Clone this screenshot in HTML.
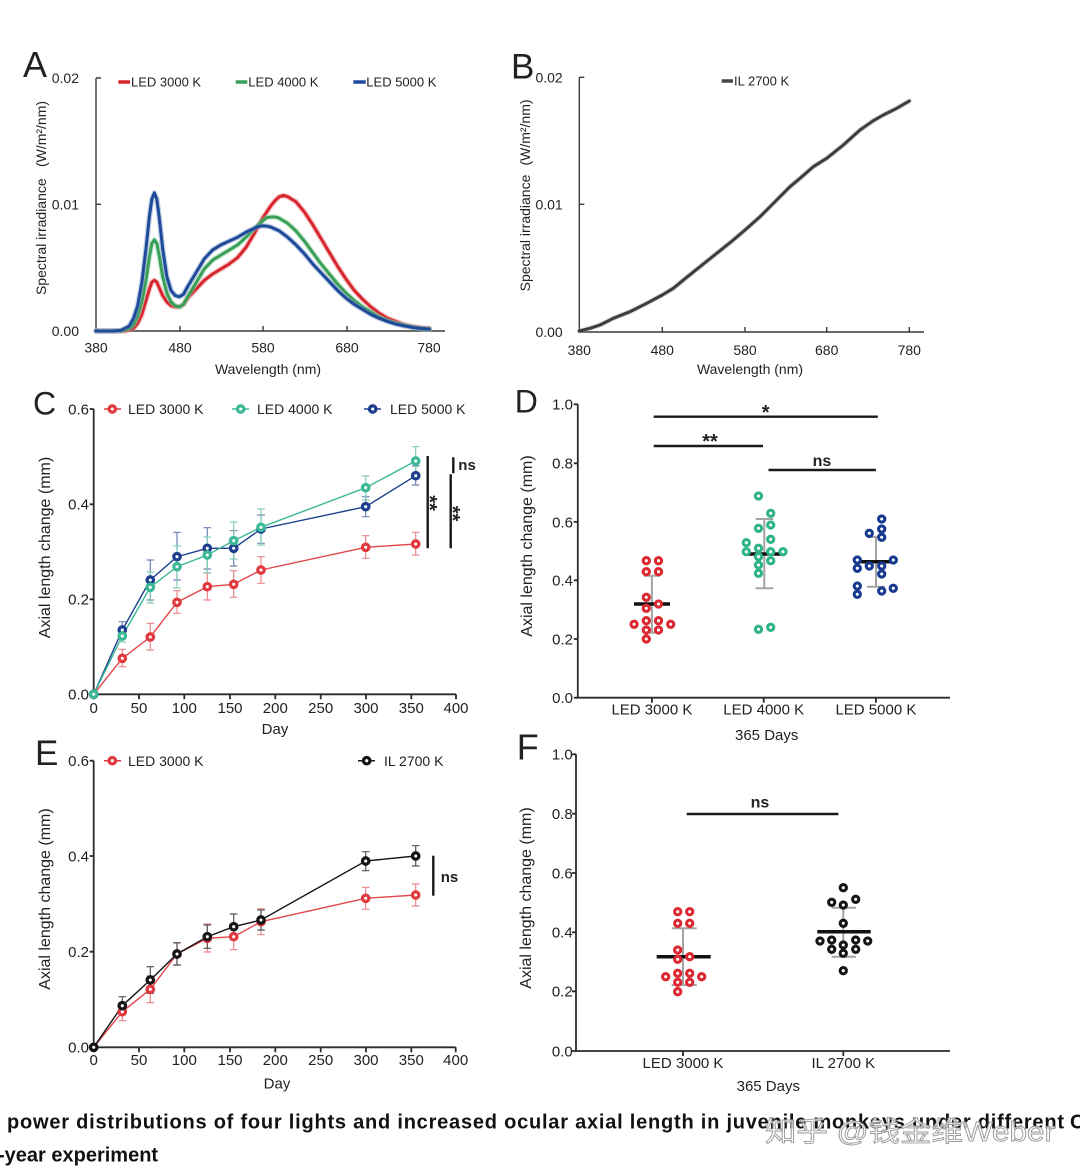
<!DOCTYPE html>
<html><head><meta charset="utf-8">
<style>
html,body{margin:0;padding:0;background:#fff;}
svg{display:block;}
text{font-family:"Liberation Sans","Noto Sans CJK SC",sans-serif;fill:#222;}
.ax{stroke:#2a2a2a;stroke-width:1.8;fill:none;}
.axa{stroke:#3a3a3a;stroke-width:1.4;fill:none;}
.sig{stroke:#1a1a1a;stroke-width:2.4;fill:none;}
.t15{font-size:15px;}
.t14{font-size:14px;}
.t13{font-size:13px;}
.b{font-weight:bold;}
</style></head>
<body>
<svg width="1080" height="1175" viewBox="0 0 1080 1175" xmlns="http://www.w3.org/2000/svg">
<rect width="1080" height="1175" fill="#fff"/>

<!-- ================= PANEL A ================= -->
<text x="23" y="77" font-size="36">A</text>
<path class="axa" d="M96 78 V331 H445"/>
<path class="axa" d="M96 78 h5 M96 204.3 h5 M180 331 v-5 M263 331 v-5 M347 331 v-5 M429 331 v-5"/>
<g class="t14" text-anchor="end">
<text x="79" y="83">0.02</text>
<text x="79" y="209.3">0.01</text>
<text x="79" y="336">0.00</text>
</g>
<g class="t14" text-anchor="middle">
<text x="96" y="352.5">380</text>
<text x="180" y="352.5">480</text>
<text x="263" y="352.5">580</text>
<text x="347" y="352.5">680</text>
<text x="429" y="352.5">780</text>
<text x="268" y="374">Wavelength (nm)</text>
</g>
<text class="t14" text-anchor="middle" transform="translate(46,236.7) rotate(-90)">Spectral irradiance</text>
<text class="t14" text-anchor="middle" transform="translate(46,134) rotate(-90)">(W/m²/nm)</text>
<path d="M118.3 82 H130" stroke="#d8262e" stroke-width="3.5"/>
<text class="t13" x="131" y="86.5">LED 3000 K</text>
<path d="M235.7 82 H247.3" stroke="#3a9f57" stroke-width="3.5"/>
<text class="t13" x="248.3" y="86.5">LED 4000 K</text>
<path d="M353.3 82 H365.7" stroke="#1e4a9a" stroke-width="3.5"/>
<text class="t13" x="366.3" y="86.5">LED 5000 K</text>
<g transform="translate(96,331) scale(0.8333,-12.67)" fill="none" stroke-linejoin="round" stroke-linecap="round">
<g id="redA">
<polyline vector-effect="non-scaling-stroke" stroke="#e6868a" stroke-opacity="0.45" stroke-width="5.5" points="0,0 35,0 45,0.2 50,0.6 55,1.3 60,2.4 64,3.3 67,3.85 70,4.0 73,3.85 76,3.4 80,2.8 85,2.3 90,2.0 95,1.9 100,1.9 105,2.1 110,2.6 120,3.3 130,4.0 140,4.5 150,4.9 160,5.3 170,5.8 180,6.6 190,7.7 200,8.9 210,9.9 215,10.3 220,10.6 225,10.7 230,10.6 235,10.4 240,10.2 250,9.4 260,8.4 270,7.3 280,6.2 290,5.1 300,4.1 310,3.2 320,2.5 330,1.9 340,1.4 350,1.0 360,0.75 370,0.5 380,0.35 390,0.25 400,0.2"/>
<polyline vector-effect="non-scaling-stroke" stroke="#d8262e" stroke-width="3" points="0,0 35,0 45,0.2 50,0.6 55,1.3 60,2.4 64,3.3 67,3.85 70,4.0 73,3.85 76,3.4 80,2.8 85,2.3 90,2.0 95,1.9 100,1.9 105,2.1 110,2.6 120,3.3 130,4.0 140,4.5 150,4.9 160,5.3 170,5.8 180,6.6 190,7.7 200,8.9 210,9.9 215,10.3 220,10.6 225,10.7 230,10.6 235,10.4 240,10.2 250,9.4 260,8.4 270,7.3 280,6.2 290,5.1 300,4.1 310,3.2 320,2.5 330,1.9 340,1.4 350,1.0 360,0.75 370,0.5 380,0.35 390,0.25 400,0.2"/>
</g>
<polyline vector-effect="non-scaling-stroke" stroke="#8fcf9f" stroke-opacity="0.45" stroke-width="5.5" points="0,0 30,0 40,0.2 45,0.5 50,1.2 55,2.3 60,4.0 64,5.8 67,6.9 70,7.2 73,6.9 76,5.9 80,4.3 85,3.0 90,2.3 95,2.0 100,1.9 105,2.1 110,2.7 120,3.8 130,4.9 140,5.6 150,6.0 160,6.4 170,6.8 180,7.4 190,8.1 200,8.7 205,8.95 210,9.0 215,9.0 220,8.9 230,8.5 240,7.9 250,7.1 260,6.2 270,5.3 280,4.5 290,3.7 300,3.0 310,2.4 320,1.9 330,1.5 340,1.1 350,0.8 360,0.6 370,0.45 380,0.3 390,0.2 400,0.15"/>
<polyline vector-effect="non-scaling-stroke" stroke="#3a9f57" stroke-width="3" points="0,0 30,0 40,0.2 45,0.5 50,1.2 55,2.3 60,4.0 64,5.8 67,6.9 70,7.2 73,6.9 76,5.9 80,4.3 85,3.0 90,2.3 95,2.0 100,1.9 105,2.1 110,2.7 120,3.8 130,4.9 140,5.6 150,6.0 160,6.4 170,6.8 180,7.4 190,8.1 200,8.7 205,8.95 210,9.0 215,9.0 220,8.9 230,8.5 240,7.9 250,7.1 260,6.2 270,5.3 280,4.5 290,3.7 300,3.0 310,2.4 320,1.9 330,1.5 340,1.1 350,0.8 360,0.6 370,0.45 380,0.3 390,0.2 400,0.15"/>
<polyline vector-effect="non-scaling-stroke" stroke="#7d97c8" stroke-opacity="0.45" stroke-width="5.5" points="0,0 20,0 30,0.05 40,0.4 45,1.0 50,2.0 55,3.8 60,6.5 64,9.0 67,10.4 70,10.9 73,10.4 76,8.9 80,6.5 85,4.3 90,3.2 95,2.8 100,2.7 105,2.9 110,3.5 120,4.6 130,5.7 140,6.4 150,6.8 160,7.1 170,7.4 180,7.8 190,8.1 195,8.25 200,8.3 205,8.28 210,8.2 220,7.9 230,7.4 240,6.8 250,6.1 260,5.3 270,4.6 280,3.9 290,3.2 300,2.6 310,2.1 320,1.7 330,1.3 340,1.0 350,0.75 360,0.55 370,0.4 380,0.28 390,0.2 400,0.15"/>
<polyline vector-effect="non-scaling-stroke" stroke="#1e4a9a" stroke-width="3" points="0,0 20,0 30,0.05 40,0.4 45,1.0 50,2.0 55,3.8 60,6.5 64,9.0 67,10.4 70,10.9 73,10.4 76,8.9 80,6.5 85,4.3 90,3.2 95,2.8 100,2.7 105,2.9 110,3.5 120,4.6 130,5.7 140,6.4 150,6.8 160,7.1 170,7.4 180,7.8 190,8.1 195,8.25 200,8.3 205,8.28 210,8.2 220,7.9 230,7.4 240,6.8 250,6.1 260,5.3 270,4.6 280,3.9 290,3.2 300,2.6 310,2.1 320,1.7 330,1.3 340,1.0 350,0.75 360,0.55 370,0.4 380,0.28 390,0.2 400,0.15"/>
</g>

<!-- ================= PANEL B ================= -->
<text x="511" y="78.3" font-size="35">B</text>
<path class="axa" d="M579.3 77.3 V332 H924"/>
<path class="axa" d="M579.3 77.3 h5 M579.3 204.3 h5 M662.3 332 v-5 M745 332 v-5 M826.7 332 v-5 M909.3 332 v-5"/>
<g class="t14" text-anchor="end">
<text x="562.7" y="82.3">0.02</text>
<text x="562.7" y="209.3">0.01</text>
<text x="562.7" y="337">0.00</text>
</g>
<g class="t14" text-anchor="middle">
<text x="579.3" y="355">380</text>
<text x="662.3" y="355">480</text>
<text x="745" y="355">580</text>
<text x="826.7" y="355">680</text>
<text x="909.3" y="355">780</text>
<text x="750" y="374">Wavelength (nm)</text>
</g>
<text class="t14" text-anchor="middle" transform="translate(530,233) rotate(-90)">Spectral irradiance</text>
<text class="t14" text-anchor="middle" transform="translate(530,132.5) rotate(-90)">(W/m²/nm)</text>
<path d="M721.7 81 H733" stroke="#444" stroke-width="3.5"/>
<text class="t13" x="734" y="85.5">IL 2700 K</text>
<polyline fill="none" stroke="#9a9a9a" stroke-opacity="0.4" stroke-width="5" stroke-linejoin="round" stroke-linecap="round" points="579.3,331 590,328.3 600,325 613.3,318.3 630,311.7 646.7,303.3 662.3,295 673.3,288.3 686.7,277.3 700,266.7 716.7,253.3 733.3,240 745,230 760,216.7 776.7,200 790,186.7 800,178.3 813.3,166.7 826.7,158.3 843.3,145 860,130 873.3,120.7 883.3,115 896.7,108.3 909.3,101"/>
<polyline fill="none" stroke="#3d3d3d" stroke-width="3" stroke-linejoin="round" stroke-linecap="round" points="579.3,331 590,328.3 600,325 613.3,318.3 630,311.7 646.7,303.3 662.3,295 673.3,288.3 686.7,277.3 700,266.7 716.7,253.3 733.3,240 745,230 760,216.7 776.7,200 790,186.7 800,178.3 813.3,166.7 826.7,158.3 843.3,145 860,130 873.3,120.7 883.3,115 896.7,108.3 909.3,101"/>

<!-- ================= PANEL C ================= -->
<text x="33" y="414.3" font-size="32">C</text>
<path class="ax" d="M93.7 409 V694.3 H456"/>
<path class="ax" d="M89.7 409 H93.7 M89.7 504.3 H93.7 M89.7 599.3 H93.7 M89.7 694.3 H93.7 M93.7 694.3 v5 M139 694.3 v5 M184.3 694.3 v5 M230 694.3 v5 M275.3 694.3 v5 M320.7 694.3 v5 M366 694.3 v5 M411.3 694.3 v5 M456 694.3 v5"/>
<g class="t15" text-anchor="end">
<text x="89" y="414.3">0.6</text>
<text x="89" y="509.6">0.4</text>
<text x="89" y="604.6">0.2</text>
<text x="89" y="699.6">0.0</text>
</g>
<g class="t15" text-anchor="middle">
<text x="93.7" y="713">0</text>
<text x="139" y="713">50</text>
<text x="184.3" y="713">100</text>
<text x="230" y="713">150</text>
<text x="275.3" y="713">200</text>
<text x="320.7" y="713">250</text>
<text x="366" y="713">300</text>
<text x="411.3" y="713">350</text>
<text x="456" y="713">400</text>
<text x="275" y="734">Day</text>
</g>
<text font-size="16" text-anchor="middle" transform="translate(50,547.5) rotate(-90)">Axial length change (mm)</text>
<!-- legend C -->
<path d="M104 409 H121" stroke="#e03a3f" stroke-width="1.5"/>
<circle cx="112.3" cy="409" r="3.2" fill="#fff" stroke="#e03a3f" stroke-width="3.3"/>
<text class="t14" x="128" y="414">LED 3000 K</text>
<path d="M232 409 H249" stroke="#3bb896" stroke-width="1.5"/>
<circle cx="240.7" cy="409" r="3.2" fill="#fff" stroke="#3bb896" stroke-width="3.3"/>
<text class="t14" x="257" y="414">LED 4000 K</text>
<path d="M364 409 H381" stroke="#1d3f8e" stroke-width="1.5"/>
<circle cx="372.7" cy="409" r="3.2" fill="#fff" stroke="#1d3f8e" stroke-width="3.3"/>
<text class="t14" x="390" y="414">LED 5000 K</text>
<!-- red series C -->
<g fill="none">
<polyline stroke="#e0474c" stroke-width="1.4" points="93.7,694.3 122.3,658.3 150.3,637 177,602.3 207.3,586.7 233.7,584.3 261,570 365.7,547.3 415.7,544"/>
<path stroke="#e8878a" stroke-width="1.2" d="M122.3 649.3 V666.7 M118.5 649.3 h7.6 M118.5 666.7 h7.6 M150.3 623.3 V650 M146.5 623.3 h7.6 M146.5 650 h7.6 M177 590.7 V613.3 M173.2 590.7 h7.6 M173.2 613.3 h7.6 M207.3 572.7 V600 M203.5 572.7 h7.6 M203.5 600 h7.6 M233.7 570.7 V597.3 M229.9 570.7 h7.6 M229.9 597.3 h7.6 M261 556.7 V583.3 M257.2 556.7 h7.6 M257.2 583.3 h7.6 M365.7 535.7 V558.3 M361.9 535.7 h7.6 M361.9 558.3 h7.6 M415.7 532.3 V555 M411.9 532.3 h7.6 M411.9 555 h7.6"/>
</g>
<!-- blue series C -->
<g fill="none">
<polyline stroke="#1d3f8e" stroke-width="1.4" points="93.7,694.3 122.3,630 150.3,580 177,556.7 207.3,548.3 233.7,548.3 261,529 365.7,506.7 415.7,475.7"/>
<path stroke="#7084b3" stroke-width="1.2" d="M122.3 621.7 V638.3 M118.5 621.7 h7.6 M118.5 638.3 h7.6 M150.3 560 V600 M146.5 560 h7.6 M146.5 600 h7.6 M177 532.3 V580 M173.2 532.3 h7.6 M173.2 580 h7.6 M207.3 527.7 V569 M203.5 527.7 h7.6 M203.5 569 h7.6 M233.7 530.7 V566 M229.9 530.7 h7.6 M229.9 566 h7.6 M261 515 V543.3 M257.2 515 h7.6 M257.2 543.3 h7.6 M365.7 496.7 V516.7 M361.9 496.7 h7.6 M361.9 516.7 h7.6 M415.7 466 V485 M411.9 466 h7.6 M411.9 485 h7.6"/>
</g>
<!-- green series C -->
<g fill="none">
<polyline stroke="#3bb896" stroke-width="1.4" points="93.7,694.3 122.3,636 150.3,587.3 177,566.7 207.3,555 233.7,540.7 261,527.3 365.7,487.7 415.7,461"/>
<path stroke="#85cdb6" stroke-width="1.2" d="M122.3 630 V642 M118.5 630 h7.6 M118.5 642 h7.6 M150.3 572 V603 M146.5 572 h7.6 M146.5 603 h7.6 M177 546 V588 M173.2 546 h7.6 M173.2 588 h7.6 M207.3 537 V573 M203.5 537 h7.6 M203.5 573 h7.6 M233.7 522 V559 M229.9 522 h7.6 M229.9 559 h7.6 M261 509 V545 M257.2 509 h7.6 M257.2 545 h7.6 M365.7 476 V500 M361.9 476 h7.6 M361.9 500 h7.6 M415.7 446.7 V475 M411.9 446.7 h7.6 M411.9 475 h7.6"/>
</g>
<g fill="#fff" stroke="#e03a3f" stroke-width="3.3">
<circle cx="93.7" cy="694.3" r="3.2"/><circle cx="122.3" cy="658.3" r="3.2"/><circle cx="150.3" cy="637" r="3.2"/><circle cx="177" cy="602.3" r="3.2"/><circle cx="207.3" cy="586.7" r="3.2"/><circle cx="233.7" cy="584.3" r="3.2"/><circle cx="261" cy="570" r="3.2"/><circle cx="365.7" cy="547.3" r="3.2"/><circle cx="415.7" cy="544" r="3.2"/>
</g>
<g fill="#fff" stroke="#1d3f8e" stroke-width="3.3">
<circle cx="93.7" cy="694.3" r="3.2"/><circle cx="122.3" cy="630" r="3.2"/><circle cx="150.3" cy="580" r="3.2"/><circle cx="177" cy="556.7" r="3.2"/><circle cx="207.3" cy="548.3" r="3.2"/><circle cx="233.7" cy="548.3" r="3.2"/><circle cx="261" cy="529" r="3.2"/><circle cx="365.7" cy="506.7" r="3.2"/><circle cx="415.7" cy="475.7" r="3.2"/>
</g>
<g fill="#fff" stroke="#3bb896" stroke-width="3.3">
<circle cx="93.7" cy="694.3" r="3.2"/><circle cx="122.3" cy="636" r="3.2"/><circle cx="150.3" cy="587.3" r="3.2"/><circle cx="177" cy="566.7" r="3.2"/><circle cx="207.3" cy="555" r="3.2"/><circle cx="233.7" cy="540.7" r="3.2"/><circle cx="261" cy="527.3" r="3.2"/><circle cx="365.7" cy="487.7" r="3.2"/><circle cx="415.7" cy="461" r="3.2"/>
</g>
<!-- significance C -->
<path class="sig" d="M427.7 456 V548.3 M450.7 474.3 V548.3 M453.3 457.3 V473.3"/>
<text class="b" font-size="20" text-anchor="middle" transform="translate(423,503) rotate(90)">**</text>
<text class="b" font-size="20" text-anchor="middle" transform="translate(446,513.5) rotate(90)">**</text>
<text class="b" font-size="15" x="458.3" y="470">ns</text>

<!-- ================= PANEL D ================= -->
<text x="514.8" y="412.3" font-size="32">D</text>
<path class="ax" d="M577.8 404.3 V697.7 H950"/>
<path class="ax" d="M573.8 404.3 h4 M573.8 463.3 h4 M573.8 522 h4 M573.8 580.3 h4 M573.8 639 h4 M573.8 697.7 h4 M651.9 697.7 v5 M763.7 697.7 v5 M875.9 697.7 v5"/>
<g class="t15" text-anchor="end">
<text x="573" y="409.6">1.0</text>
<text x="573" y="468.6">0.8</text>
<text x="573" y="527.3">0.6</text>
<text x="573" y="585.6">0.4</text>
<text x="573" y="644.3">0.2</text>
<text x="573" y="703">0.0</text>
</g>
<g class="t15" text-anchor="middle">
<text x="651.9" y="714.5">LED 3000 K</text>
<text x="763.7" y="714.5">LED 4000 K</text>
<text x="875.9" y="714.5">LED 5000 K</text>
<text x="766.7" y="740">365 Days</text>
</g>
<text font-size="16" text-anchor="middle" transform="translate(532,546) rotate(-90)">Axial length change (mm)</text>
<path class="sig" d="M653.7 416.7 H877.8 M653.7 446 H763 M768.5 470 H875.9"/>
<text class="b" font-size="20" text-anchor="middle" x="765.6" y="419">*</text>
<text class="b" font-size="20" text-anchor="middle" x="710" y="448">**</text>
<text class="b" font-size="16" text-anchor="middle" x="822" y="466">ns</text>
<!-- SD bars D -->
<path stroke="#a3a3a3" stroke-width="2" fill="none" d="M651.9 575.7 V632.6 M644 575.7 H660 M644 632.6 H660 M764.3 519 V588.3 M755.7 519 H773.3 M755.7 588.3 H773.3 M876 537 V586.7 M867 537 H885 M867 586.7 H885"/>
<path stroke="#111" stroke-width="3.5" d="M634 604 H670 M746 554 H782 M858 561.7 H893"/>
<g fill="#fff" stroke="#dc2830" stroke-width="3.1">
<circle cx="646.3" cy="560.7" r="3.1"/><circle cx="658.5" cy="560.7" r="3.1"/><circle cx="646.3" cy="571.7" r="3.1"/><circle cx="658.5" cy="571.7" r="3.1"/><circle cx="646.3" cy="597.3" r="3.1"/><circle cx="646.3" cy="608.3" r="3.1"/><circle cx="658.5" cy="604" r="3.1"/><circle cx="634.1" cy="624.3" r="3.1"/><circle cx="670.7" cy="624.3" r="3.1"/><circle cx="646.3" cy="620.7" r="3.1"/><circle cx="658.5" cy="620.7" r="3.1"/><circle cx="646.3" cy="630" r="3.1"/><circle cx="658.5" cy="630" r="3.1"/><circle cx="646.3" cy="639" r="3.1"/>
</g>
<g fill="#fff" stroke="#2fb48a" stroke-width="3.1">
<circle cx="758.5" cy="496" r="3.1"/><circle cx="770.7" cy="513.3" r="3.1"/><circle cx="758.5" cy="528.3" r="3.1"/><circle cx="770.7" cy="525" r="3.1"/><circle cx="770.7" cy="539.3" r="3.1"/><circle cx="746.3" cy="542.7" r="3.1"/><circle cx="758.5" cy="548.3" r="3.1"/><circle cx="770.7" cy="551.7" r="3.1"/><circle cx="746.3" cy="551.7" r="3.1"/><circle cx="783" cy="551.7" r="3.1"/><circle cx="758.5" cy="556.7" r="3.1"/><circle cx="770.7" cy="560.7" r="3.1"/><circle cx="758.5" cy="565" r="3.1"/><circle cx="758.5" cy="573.3" r="3.1"/><circle cx="758.5" cy="629.3" r="3.1"/><circle cx="770.7" cy="627.3" r="3.1"/>
</g>
<g fill="#fff" stroke="#17398e" stroke-width="3.1">
<circle cx="881.7" cy="519" r="3.1"/><circle cx="881.7" cy="529" r="3.1"/><circle cx="869.3" cy="533.3" r="3.1"/><circle cx="881.7" cy="537.3" r="3.1"/><circle cx="857.3" cy="560" r="3.1"/><circle cx="893.3" cy="560" r="3.1"/><circle cx="857.3" cy="568.3" r="3.1"/><circle cx="869.3" cy="566" r="3.1"/><circle cx="881.7" cy="566" r="3.1"/><circle cx="881.7" cy="574" r="3.1"/><circle cx="857.3" cy="586" r="3.1"/><circle cx="857.3" cy="594.3" r="3.1"/><circle cx="881.7" cy="591" r="3.1"/><circle cx="893.3" cy="588.3" r="3.1"/>
</g>

<!-- ================= PANEL E ================= -->
<text x="35" y="765" font-size="35">E</text>
<path class="ax" d="M93.7 760.7 V1047.3 H455.7"/>
<path class="ax" d="M89.7 760.7 h4 M89.7 856 h4 M89.7 951.7 h4 M89.7 1047.3 h4 M93.7 1047.3 v5 M139 1047.3 v5 M184.3 1047.3 v5 M230 1047.3 v5 M275.3 1047.3 v5 M320.7 1047.3 v5 M366 1047.3 v5 M411.3 1047.3 v5 M455.7 1047.3 v5"/>
<g class="t15" text-anchor="end">
<text x="89" y="766">0.6</text>
<text x="89" y="861.3">0.4</text>
<text x="89" y="957">0.2</text>
<text x="89" y="1052.6">0.0</text>
</g>
<g class="t15" text-anchor="middle">
<text x="93.7" y="1065">0</text>
<text x="139" y="1065">50</text>
<text x="184.3" y="1065">100</text>
<text x="230" y="1065">150</text>
<text x="275.3" y="1065">200</text>
<text x="320.7" y="1065">250</text>
<text x="366" y="1065">300</text>
<text x="411.3" y="1065">350</text>
<text x="455.7" y="1065">400</text>
<text x="277" y="1088.5">Day</text>
</g>
<text font-size="16" text-anchor="middle" transform="translate(50,899) rotate(-90)">Axial length change (mm)</text>
<path d="M104 760.7 H121" stroke="#e03a3f" stroke-width="1.5"/>
<circle cx="112.3" cy="760.7" r="3.2" fill="#fff" stroke="#e03a3f" stroke-width="3.3"/>
<text class="t14" x="128" y="766">LED 3000 K</text>
<path d="M358 760.7 H375" stroke="#151515" stroke-width="1.5"/>
<circle cx="366.7" cy="760.7" r="3.2" fill="#fff" stroke="#151515" stroke-width="3.3"/>
<text class="t14" x="384" y="766">IL 2700 K</text>
<g fill="none">
<polyline stroke="#e0474c" stroke-width="1.4" points="93.7,1047.3 122.3,1011.7 150.3,989.3 177,954 207.3,938.3 233.7,936.7 261,921.7 365.7,898.3 415.7,895"/>
<path stroke="#e8878a" stroke-width="1.2" d="M122.3 1002.7 V1020.7 M118.5 1002.7 h7.6 M118.5 1020.7 h7.6 M150.3 976 V1002.6 M146.5 976 h7.6 M146.5 1002.6 h7.6 M177 943 V965 M173.2 943 h7.6 M173.2 965 h7.6 M207.3 924 V952 M203.5 924 h7.6 M203.5 952 h7.6 M233.7 923.7 V949.7 M229.9 923.7 h7.6 M229.9 949.7 h7.6 M261 908.7 V934.7 M257.2 908.7 h7.6 M257.2 934.7 h7.6 M365.7 887.3 V909.3 M361.9 887.3 h7.6 M361.9 909.3 h7.6 M415.7 884 V906 M411.9 884 h7.6 M411.9 906 h7.6"/>
<polyline stroke="#151515" stroke-width="1.4" points="93.7,1047.3 122.3,1005.7 150.3,980 177,954 207.3,936.7 233.7,926.7 261,920 365.7,861 415.7,856"/>
<path stroke="#555" stroke-width="1.2" d="M122.3 996.7 V1013.3 M118.5 996.7 h7.6 M118.5 1013.3 h7.6 M150.3 966.7 V993.3 M146.5 966.7 h7.6 M146.5 993.3 h7.6 M177 942.7 V965 M173.2 942.7 h7.6 M173.2 965 h7.6 M207.3 925 V948.3 M203.5 925 h7.6 M203.5 948.3 h7.6 M233.7 914 V939.3 M229.9 914 h7.6 M229.9 939.3 h7.6 M261 910 V930 M257.2 910 h7.6 M257.2 930 h7.6 M365.7 851.7 V870.7 M361.9 851.7 h7.6 M361.9 870.7 h7.6 M415.7 845.7 V866 M411.9 845.7 h7.6 M411.9 866 h7.6"/>
</g>
<g fill="#fff" stroke="#e03a3f" stroke-width="3.3">
<circle cx="93.7" cy="1047.3" r="3.2"/><circle cx="122.3" cy="1011.7" r="3.2"/><circle cx="150.3" cy="989.3" r="3.2"/><circle cx="177" cy="954" r="3.2"/><circle cx="207.3" cy="938.3" r="3.2"/><circle cx="233.7" cy="936.7" r="3.2"/><circle cx="261" cy="921.7" r="3.2"/><circle cx="365.7" cy="898.3" r="3.2"/><circle cx="415.7" cy="895" r="3.2"/>
</g>
<g fill="#fff" stroke="#151515" stroke-width="3.3">
<circle cx="93.7" cy="1047.3" r="3.2"/><circle cx="122.3" cy="1005.7" r="3.2"/><circle cx="150.3" cy="980" r="3.2"/><circle cx="177" cy="954" r="3.2"/><circle cx="207.3" cy="936.7" r="3.2"/><circle cx="233.7" cy="926.7" r="3.2"/><circle cx="261" cy="920" r="3.2"/><circle cx="365.7" cy="861" r="3.2"/><circle cx="415.7" cy="856" r="3.2"/>
</g>
<path class="sig" d="M433.3 855.7 V895.7"/>
<text class="b" font-size="15" x="440.7" y="882">ns</text>

<!-- ================= PANEL F ================= -->
<text x="516.7" y="759.3" font-size="36">F</text>
<path class="ax" d="M576 754.3 V1051 H950"/>
<path class="ax" d="M572 754.3 h4 M572 813.7 h4 M572 873 h4 M572 932.3 h4 M572 991.3 h4 M572 1051 h4 M683 1051 v5 M843.3 1051 v5"/>
<g class="t15" text-anchor="end">
<text x="572.7" y="759.6">1.0</text>
<text x="572.7" y="819">0.8</text>
<text x="572.7" y="878.3">0.6</text>
<text x="572.7" y="937.6">0.4</text>
<text x="572.7" y="996.6">0.2</text>
<text x="572.7" y="1056.3">0.0</text>
</g>
<g class="t15" text-anchor="middle">
<text x="683" y="1068">LED 3000 K</text>
<text x="843.3" y="1068">IL 2700 K</text>
<text x="768.3" y="1091">365 Days</text>
</g>
<text font-size="16" text-anchor="middle" transform="translate(531,898) rotate(-90)">Axial length change (mm)</text>
<path class="sig" d="M686.7 814 H838.3"/>
<text class="b" font-size="16" text-anchor="middle" x="760" y="807.5">ns</text>
<path stroke="#a3a3a3" stroke-width="2" fill="none" d="M683 928.3 V985 M671.7 928.3 H696.7 M671.7 985 H696.7 M843.3 907.7 V956.7 M831.7 907.7 H856 M831.7 956.7 H856"/>
<path stroke="#111" stroke-width="3.5" d="M656.7 956.7 H710.7 M817.3 931.7 H870.7"/>
<g fill="#fff" stroke="#dc2830" stroke-width="3.1">
<circle cx="677.7" cy="911.7" r="3.1"/><circle cx="689.7" cy="911.7" r="3.1"/><circle cx="677.7" cy="923.3" r="3.1"/><circle cx="689.7" cy="923.3" r="3.1"/><circle cx="677.7" cy="950" r="3.1"/><circle cx="677.7" cy="959.3" r="3.1"/><circle cx="689.7" cy="956.7" r="3.1"/><circle cx="665.7" cy="976.7" r="3.1"/><circle cx="701.7" cy="976.7" r="3.1"/><circle cx="677.7" cy="973.3" r="3.1"/><circle cx="689.7" cy="973.3" r="3.1"/><circle cx="677.7" cy="982.3" r="3.1"/><circle cx="689.7" cy="982.3" r="3.1"/><circle cx="677.7" cy="991.7" r="3.1"/>
</g>
<g fill="#fff" stroke="#151515" stroke-width="3.1">
<circle cx="843.3" cy="887.7" r="3.1"/><circle cx="831.7" cy="902.3" r="3.1"/><circle cx="843.3" cy="905" r="3.1"/><circle cx="855.7" cy="899.3" r="3.1"/><circle cx="843.3" cy="923.3" r="3.1"/><circle cx="820" cy="941" r="3.1"/><circle cx="831.7" cy="940" r="3.1"/><circle cx="855.7" cy="940" r="3.1"/><circle cx="867.7" cy="941" r="3.1"/><circle cx="831.7" cy="949.3" r="3.1"/><circle cx="855.7" cy="949.3" r="3.1"/><circle cx="843.3" cy="945" r="3.1"/><circle cx="843.3" cy="953.3" r="3.1"/><circle cx="843.3" cy="970.7" r="3.1"/>
</g>

<!-- ================= CAPTION ================= -->
<text x="7" y="1128.3" font-size="20" font-weight="bold" style="fill:#111" textLength="1057" lengthAdjust="spacing">power distributions of four lights and increased ocular axial length in juvenile monkeys under different</text>
<text x="1070" y="1128.3" font-size="20" font-weight="bold" style="fill:#111">C</text>
<text x="-2" y="1161.7" font-size="20" font-weight="bold" style="fill:#111">-year experiment</text>
<text x="765" y="1141" font-size="28" textLength="290" lengthAdjust="spacingAndGlyphs" style="fill:#ffffff;fill-opacity:0.75;stroke:#9a9a9a;stroke-width:0.9;font-family:'Liberation Sans','Noto Sans CJK SC',sans-serif;">知乎 @钱金维Weber</text>
</svg>
</body></html>
